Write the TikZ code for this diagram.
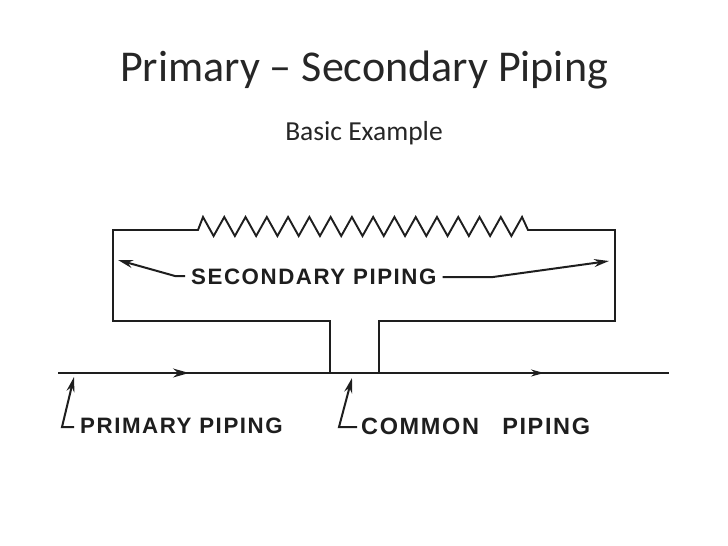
\documentclass[tikz,border=0pt]{standalone}
\usepackage{fontspec}
\setmainfont{Carlito}
\newfontfamily\lettering[LetterSpace=7]{Liberation Sans}[BoldFont={Liberation Sans Bold}]
\usetikzlibrary{arrows.meta,calc}
\definecolor{ink}{HTML}{1E1E1E}
\definecolor{titleink}{HTML}{262626}
\tikzset{
  pipe/.style={draw=ink,line width=1.9pt,line join=miter},
  mainpipe/.style={draw=ink,line width=2.5pt},
  leader/.style={draw=ink,line width=2pt,-{Stealth[length=15pt,width=8pt]}},
  flowbig/.style={draw=ink,line width=1.5pt,-{Stealth[length=16pt,width=9pt]}},
  flowsmall/.style={draw=ink,line width=1.5pt,-{Stealth[length=13pt,width=7pt]}},
  label/.style={inner sep=0pt,text=ink,font=\lettering\bfseries\fontsize{22.3}{24}\selectfont,anchor=west},
  titletext/.style={inner sep=0pt,text=titleink}
}
\begin{document}
\begin{tikzpicture}[x=1pt,y=-1pt]
\useasboundingbox[fill=white] (0,0) rectangle (728,546);
\node[titletext,font=\fontsize{44}{48}\selectfont] (title) at (364,70) {Primary – Secondary Piping};
\node[titletext,font=\fontsize{27.5}{30}\selectfont] (subtitle) at (364,133) {Basic Example};

\coordinate (pl) at (58,373);
\coordinate (pr) at (669,373);
\coordinate (sl) at (330,373);
\coordinate (sr) at (379,373);
\coordinate (bl) at (330,321);
\coordinate (br) at (379,321);
\coordinate (cbl) at (113,321);
\coordinate (cbr) at (615,321);
\coordinate (ctl) at (113,230);
\coordinate (ctr) at (615,230);
\coordinate (zl) at (198,230);
\coordinate (zr) at (528,230);

\draw[mainpipe] (pl) -- (pr);
\draw[pipe] (sl) -- (bl) -- (cbl) -- (ctl) -- (zl) -- ++(5,-13)
  \foreach \k in {1,...,15} { -- ++(10.6,19) -- ++(10.67,-19) }
  -- (zr) -- (ctr) -- (cbr) -- (br) -- (sr);

\coordinate (f1a) at (160,373);
\coordinate (f1b) at (189,373);
\coordinate (f2a) at (520,373);
\coordinate (f2b) at (544,373);
\draw[flowbig] (f1a) -- (f1b);
\draw[flowsmall] (f2a) -- (f2b);

\node[label] (sec) at (191,277) {SECONDARY PIPING};
\node[label] (pri) at (80,426) {PRIMARY PIPING};
\node[label,font=\lettering\bfseries\fontsize{23.5}{25}\selectfont] (com) at (361,426) {COMMON\hspace{15pt} PIPING};

\coordinate (sa1) at (175,276);
\coordinate (sat) at (118,260);
\coordinate (sb1) at (493,277);
\coordinate (sbt) at (609,261);
\draw[leader] (sec.west) ++(-6,-1) -- (sa1) -- (sat);
\draw[leader] (sec.east) ++(6,0) -- (sb1) -- (sbt);

\coordinate (pa) at (62,427);
\coordinate (pt) at (74,377);
\coordinate (ca) at (339,427);
\coordinate (ct) at (352,378);
\draw[leader] (pri.west) ++(-6,1) -- (pa) -- (pt);
\draw[leader] (com.west) ++(-4,1) -- (ca) -- (ct);
\end{tikzpicture}
\end{document}
